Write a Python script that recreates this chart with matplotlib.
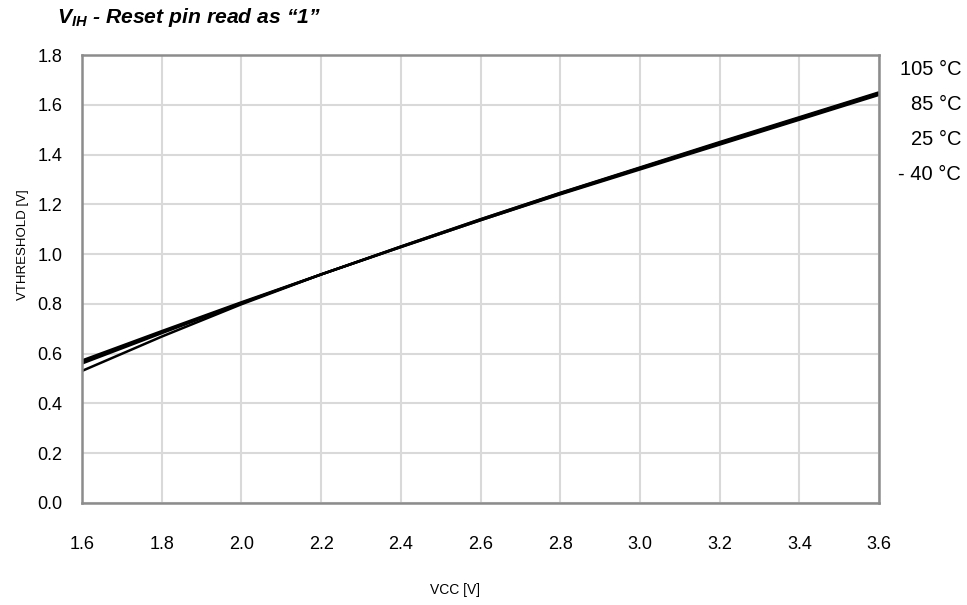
import matplotlib.pyplot as plt
import numpy as np

plt.rcParams['font.family'] = ['Liberation Sans', 'DejaVu Sans']
plt.rcParams['mathtext.fontset'] = 'custom'
plt.rcParams['mathtext.it'] = 'Liberation Sans:bold:italic'
plt.rcParams['mathtext.rm'] = 'Liberation Sans:bold:italic'

# Supply voltage (x) and threshold voltage per temperature
vcc = [1.6, 1.8, 2.0, 2.2, 2.4, 2.6, 2.8, 3.0, 3.2, 3.4, 3.6]
vth_105 = [0.530, 0.668, 0.798, 0.918, 1.028, 1.136, 1.240, 1.340, 1.440, 1.540, 1.640]
vth_85 = [0.560, 0.682, 0.802, 0.918, 1.030, 1.140, 1.246, 1.348, 1.450, 1.550, 1.650]
vth_25 = [0.566, 0.686, 0.803, 0.918, 1.030, 1.139, 1.245, 1.346, 1.447, 1.547, 1.647]
vth_m40 = [0.572, 0.690, 0.806, 0.918, 1.028, 1.136, 1.242, 1.344, 1.444, 1.544, 1.644]

series_labels = ['105 °C', '85 °C', '25 °C', '- 40 °C']
series_values = [vth_105, vth_85, vth_25, vth_m40]

fig = plt.figure(figsize=(9.67, 6.05), dpi=100)
ax = fig.add_axes([0.0848, 0.169, 0.8242, 0.740])

for vals in series_values:
    ax.plot(vcc, vals, color='black', lw=1.8, solid_capstyle='butt')

ax.set_xlim(1.6, 3.6)
ax.set_ylim(0.0, 1.8)
ax.set_xticks(np.arange(1.6, 3.61, 0.2))
ax.set_yticks(np.arange(0.0, 1.81, 0.2))
ax.xaxis.set_major_formatter(plt.FormatStrFormatter('%.1f'))
ax.yaxis.set_major_formatter(plt.FormatStrFormatter('%.1f'))
ax.tick_params(axis='both', length=0, labelsize=13)
ax.tick_params(axis='x', pad=24)
ax.tick_params(axis='y', pad=14)

ax.grid(True, color='#d9d9d9', lw=1.5)
ax.set_axisbelow(True)
for s in ax.spines.values():
    s.set_color('#8c8c8c')
    s.set_linewidth(1.8)

# axis titles (offset like the original datasheet figure)
ax.set_xlabel('VCC [V]', fontsize=10)
ax.xaxis.set_label_coords(0.468, -0.18)
ax.set_ylabel('VTHRESHOLD [V]', fontsize=9.5)
ax.yaxis.set_label_coords(-0.066, 0.576)

fig.text(0.059, 0.962, r'$V_{IH}$ - Reset pin read as “1”', fontsize=15.2, fontweight='bold',
         fontstyle='italic', ha='left', va='baseline')

# temperature labels at right
for i, lab in enumerate(series_labels):
    fig.text(0.994, 0.885 - i * 0.058, lab, fontsize=14.5, ha='right', va='center')

plt.savefig('out.png', dpi=100)
